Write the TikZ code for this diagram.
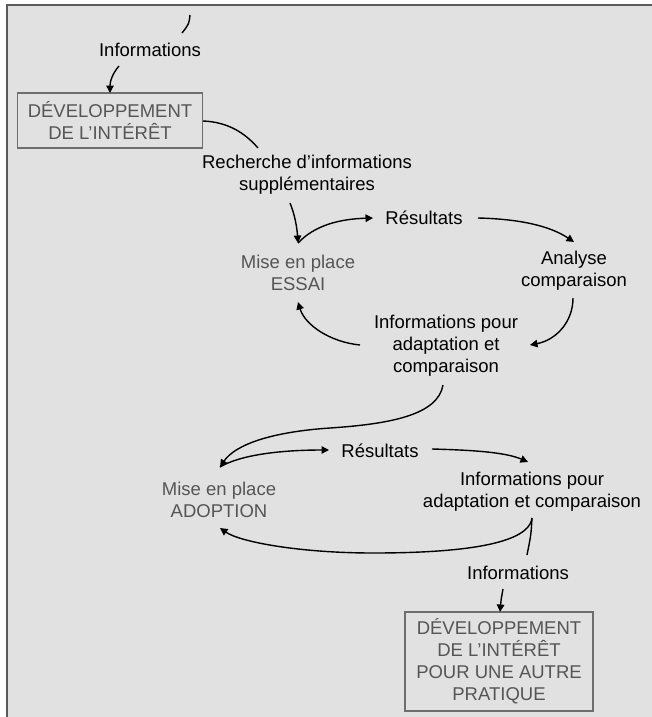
\documentclass[tikz,border=0pt]{standalone}
\usepackage{fontspec}
\setmainfont{Liberation Sans}
\usetikzlibrary{arrows.meta}
\definecolor{panel}{HTML}{E1E1E1}
\definecolor{frameline}{HTML}{5A5A5A}
\definecolor{greytext}{HTML}{555555}
\definecolor{boxline}{HTML}{6E6E6E}
\tikzset{
  lbl/.style={font=\fontsize{18.5}{22}\selectfont, align=center, inner sep=0pt, text=black},
  glbl/.style={lbl, text=greytext},
  stagebox/.style={draw=boxline, line width=1.3pt, font=\fontsize{18.5}{22}\selectfont,
    align=center, text=greytext, inner sep=0pt},
  flow/.style={line width=1.4pt, -{Triangle[length=7.5pt,width=7.5pt]}},
  link/.style={line width=1.4pt}
}
\begin{document}
\begin{tikzpicture}[x=1pt,y=-1pt]
\useasboundingbox (0,0) rectangle (652,717);
% panel with its framed top and left edges
\fill[white] (0,0) rectangle (652,717);
\fill[panel] (6,5) rectangle (652,717);
\draw[frameline, line width=2pt] (6.5,717) -- (6.5,5.5) -- (652,5.5);

% first stage
\node[lbl] (info1) at (150,50) {Informations};
\node[stagebox, minimum width=185pt, minimum height=55pt] (devel1) at (110,120.5)
  {DÉVELOPPEMENT\\DE L’INTÉRÊT};
\node[lbl] (search) at (307,175) {Recherche d’informations\\supplémentaires};

% trial loop
\node[glbl] (essai) at (298,272.5) {Mise en place\\ESSAI};
\node[lbl] (res1) at (424,218) {Résultats};
\node[lbl] (analyse) at (574,270.5) {Analyse\\comparaison};
\node[lbl] (adapt1) at (446,345.5) {Informations pour\\adaptation et\\comparaison};

% adoption loop
\node[glbl] (adoption) at (219,499.5) {Mise en place\\ADOPTION};
\node[lbl] (res2) at (380,451) {Résultats};
\node[lbl] (adapt2) at (532,492) {Informations pour\\adaptation et comparaison};
\node[lbl] (info2) at (518,573) {Informations};
\node[stagebox, minimum width=188pt, minimum height=99pt] (devel2) at (499,661.5)
  {DÉVELOPPEMENT\\DE L’INTÉRÊT\\POUR UNE AUTRE\\PRATIQUE};

% connector end points, just clear of the labels
\coordinate (topin) at (190,15);
\coordinate (topout) at (182,33);
\coordinate (info1out) at (119,66);
\coordinate (devel1in) at (110,93);
\coordinate (devel1out) at (203,121);
\coordinate (searchin) at (258,148);
\coordinate (searchout) at (290,203);
\coordinate (trialtop) at (298,243);
\coordinate (res1in) at (373,218);
\coordinate (res1out) at (478,218);
\coordinate (analysein) at (574,242);
\coordinate (analyseout) at (573,298);
\coordinate (adapt1in) at (530,345);
\coordinate (adapt1west) at (360,345);
\coordinate (essaiin) at (298,302);
\coordinate (adapt1out) at (443,385);
\coordinate (adopttop) at (220,467);
\coordinate (res2in) at (329,450);
\coordinate (res2out) at (432,449);
\coordinate (adapt2in) at (528,462);
\coordinate (fork) at (532,518);
\coordinate (adoptin) at (220,528);
\coordinate (info2in) at (527,555);
\coordinate (info2out) at (503,589);
\coordinate (devel2in) at (500,612);

% connectors
\draw[link] (topin) .. controls (189,24) .. (topout);
\draw[flow] (info1out) .. controls (112,74) and (110,82) .. (devel1in);
\draw[link] (devel1out) .. controls (228,122) and (245,133) .. (searchin);
\draw[flow] (searchout) .. controls (295,215) and (297,228) .. (trialtop);
\draw[flow] (trialtop) .. controls (315,225) and (340,219) .. (res1in);
\draw[flow] (res1out) .. controls (520,219) and (550,226) .. (analysein);
\draw[flow] (analyseout) .. controls (573,322) and (556,340) .. (adapt1in);
\draw[flow] (adapt1west) .. controls (330,342) and (305,325) .. (essaiin);

\draw[flow] (adapt1out) .. controls (438,415) and (390,424) .. (330,428)
  .. controls (270,432) and (235,445) .. (adopttop);
\draw[flow] (adopttop) .. controls (240,455) and (280,450) .. (res2in);
\draw[flow] (res2out) .. controls (470,450) and (505,452) .. (adapt2in);
\draw[flow] (fork) .. controls (530,535) and (500,553) .. (373,553)
  .. controls (300,553) and (240,542) .. (adoptin);
\draw[link] (fork) .. controls (531,535) .. (info2in);
\draw[flow] (info2out) .. controls (501,600) .. (devel2in);
\end{tikzpicture}
\end{document}
